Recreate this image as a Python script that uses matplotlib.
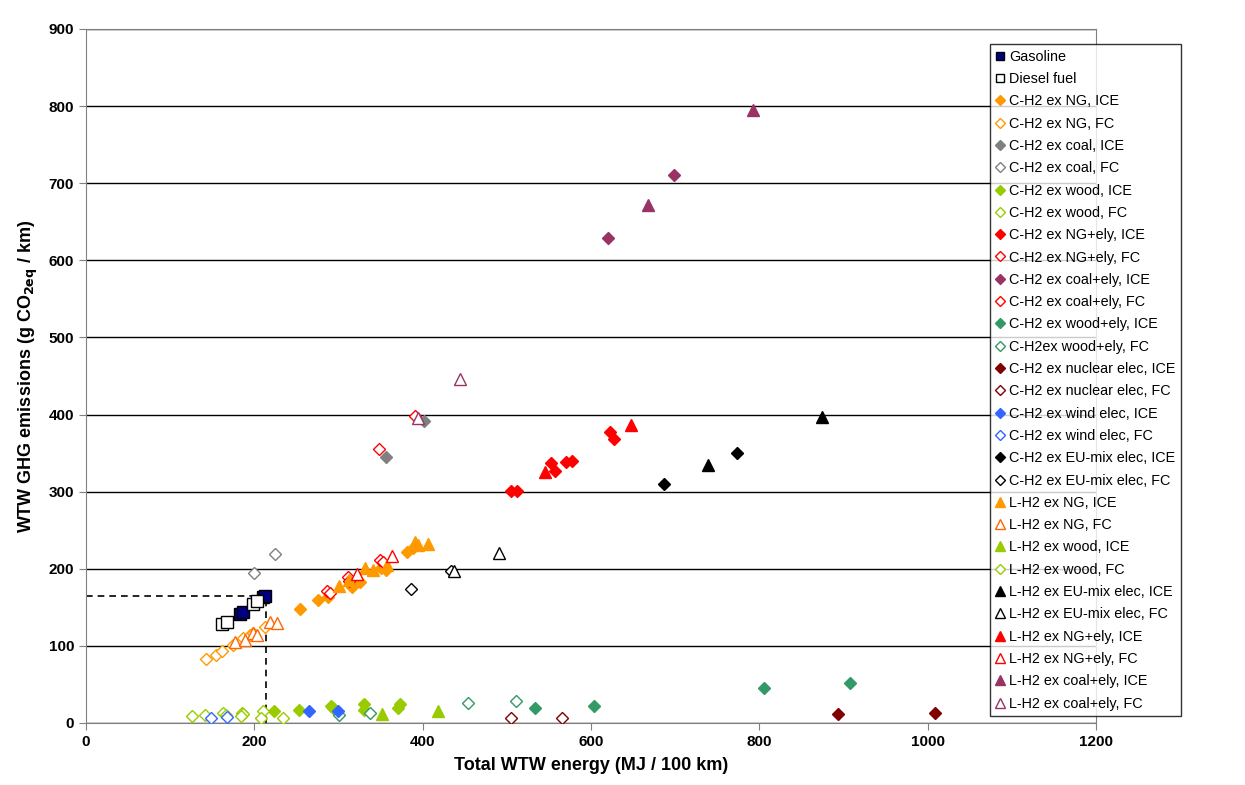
import matplotlib
matplotlib.use("Agg")
import matplotlib.pyplot as plt

plt.rcParams['font.family'] = ['Liberation Sans', 'DejaVu Sans']

# --- data (MJ/100 km, g CO2eq/km) ---
gasoline_x = [183, 186, 210, 213]
gasoline_y = [142, 144, 163, 165]
diesel_x = [162, 168, 198, 203]
diesel_y = [128, 131, 154, 158]

ch2_ng_ice_x = [254, 276, 288, 316, 326, 351, 357, 381, 389]
ch2_ng_ice_y = [148, 160, 164, 176, 183, 201, 199, 222, 227]
ch2_ng_fc_x = [143, 155, 161, 175, 187, 195, 199, 213]
ch2_ng_fc_y = [83, 88, 93, 101, 110, 114, 117, 125]

ch2_coal_ice_x = [356, 402]
ch2_coal_ice_y = [345, 391]
ch2_coal_fc_x = [200, 225]
ch2_coal_fc_y = [195, 219]

ch2_wood_ice_x = [223, 253, 291, 294, 330, 330, 371, 373]
ch2_wood_ice_y = [16, 17, 22, 19, 25, 17, 19, 25]
ch2_wood_fc_x = [126, 141, 163, 166, 185, 187, 210, 208]
ch2_wood_fc_y = [9, 10, 13, 11, 13, 12, 15, 7]

ch2_ngely_ice_x = [505, 512, 552, 557, 570, 577, 623, 627]
ch2_ngely_ice_y = [301, 301, 337, 327, 339, 340, 378, 368]
ch2_ngely_fc_x = [286, 290, 311, 313, 349, 353]
ch2_ngely_fc_y = [171, 169, 189, 184, 212, 209]

ch2_coalely_ice_x = [620, 699]
ch2_coalely_ice_y = [629, 711]
ch2_coalely_fc_x = [348, 391]
ch2_coalely_fc_y = [355, 398]

ch2_woodely_ice_x = [534, 603, 806, 908]
ch2_woodely_ice_y = [20, 22, 46, 52]
ch2_woodely_fc_x = [301, 338, 454, 511]
ch2_woodely_fc_y = [10, 13, 26, 29]

ch2_nuc_ice_x = [893, 1009]
ch2_nuc_ice_y = [12, 13]
ch2_nuc_fc_x = [505, 566]
ch2_nuc_fc_y = [6, 6]

ch2_wind_ice_x = [265, 299]
ch2_wind_ice_y = [15, 16]
ch2_wind_fc_x = [149, 167]
ch2_wind_fc_y = [7, 8]

ch2_eu_ice_x = [687, 773]
ch2_eu_ice_y = [310, 350]
ch2_eu_fc_x = [386, 434]
ch2_eu_fc_y = [174, 197]

lh2_ng_ice_x = [301, 313, 331, 341, 358, 391, 394, 406]
lh2_ng_ice_y = [178, 186, 201, 198, 205, 235, 231, 232]
lh2_ng_fc_x = [177, 189, 199, 203, 219, 227]
lh2_ng_fc_y = [105, 108, 117, 114, 131, 130]

lh2_wood_ice_x = [352, 418]
lh2_wood_ice_y = [12, 15]
lh2_wood_fc_x = [184, 234]
lh2_wood_fc_y = [9, 7]

lh2_eu_ice_x = [739, 874]
lh2_eu_ice_y = [335, 397]
lh2_eu_fc_x = [437, 491]
lh2_eu_fc_y = [197, 221]

lh2_ngely_ice_x = [545, 647]
lh2_ngely_ice_y = [325, 386]
lh2_ngely_fc_x = [322, 363]
lh2_ngely_fc_y = [193, 217]

lh2_coalely_ice_x = [668, 792]
lh2_coalely_ice_y = [672, 795]
lh2_coalely_fc_x = [395, 444]
lh2_coalely_fc_y = [396, 446]

ref_energy = 214
ref_ghg = 165

ORANGE = '#FF9900'
ORANGE2 = '#FF6600'
GREY = '#808080'
LIME = '#99CC00'
RED = '#FF0000'
PLUM = '#993366'
SEA = '#339966'
MAROON = '#800000'
BLUE = '#3366FF'
NAVY = '#000080'

# label, x, y, marker, colour, filled
series = [
    ("Gasoline", gasoline_x, gasoline_y, 's', NAVY, True),
    ("Diesel fuel", diesel_x, diesel_y, 's', 'black', False),
    ("C-H2 ex NG, ICE", ch2_ng_ice_x, ch2_ng_ice_y, 'D', ORANGE, True),
    ("C-H2 ex NG, FC", ch2_ng_fc_x, ch2_ng_fc_y, 'D', ORANGE, False),
    ("C-H2 ex coal, ICE", ch2_coal_ice_x, ch2_coal_ice_y, 'D', GREY, True),
    ("C-H2 ex coal, FC", ch2_coal_fc_x, ch2_coal_fc_y, 'D', GREY, False),
    ("C-H2 ex wood, ICE", ch2_wood_ice_x, ch2_wood_ice_y, 'D', LIME, True),
    ("C-H2 ex wood, FC", ch2_wood_fc_x, ch2_wood_fc_y, 'D', LIME, False),
    ("C-H2 ex NG+ely, ICE", ch2_ngely_ice_x, ch2_ngely_ice_y, 'D', RED, True),
    ("C-H2 ex NG+ely, FC", ch2_ngely_fc_x, ch2_ngely_fc_y, 'D', RED, False),
    ("C-H2 ex coal+ely, ICE", ch2_coalely_ice_x, ch2_coalely_ice_y, 'D', PLUM, True),
    ("C-H2 ex coal+ely, FC", ch2_coalely_fc_x, ch2_coalely_fc_y, 'D', RED, False),
    ("C-H2 ex wood+ely, ICE", ch2_woodely_ice_x, ch2_woodely_ice_y, 'D', SEA, True),
    ("C-H2ex wood+ely, FC", ch2_woodely_fc_x, ch2_woodely_fc_y, 'D', SEA, False),
    ("C-H2 ex nuclear elec, ICE", ch2_nuc_ice_x, ch2_nuc_ice_y, 'D', MAROON, True),
    ("C-H2 ex nuclear elec, FC", ch2_nuc_fc_x, ch2_nuc_fc_y, 'D', MAROON, False),
    ("C-H2 ex wind elec, ICE", ch2_wind_ice_x, ch2_wind_ice_y, 'D', BLUE, True),
    ("C-H2 ex wind elec, FC", ch2_wind_fc_x, ch2_wind_fc_y, 'D', BLUE, False),
    ("C-H2 ex EU-mix elec, ICE", ch2_eu_ice_x, ch2_eu_ice_y, 'D', 'black', True),
    ("C-H2 ex EU-mix elec, FC", ch2_eu_fc_x, ch2_eu_fc_y, 'D', 'black', False),
    ("L-H2 ex NG, ICE", lh2_ng_ice_x, lh2_ng_ice_y, '^', ORANGE, True),
    ("L-H2 ex NG, FC", lh2_ng_fc_x, lh2_ng_fc_y, '^', ORANGE2, False),
    ("L-H2 ex wood, ICE", lh2_wood_ice_x, lh2_wood_ice_y, '^', LIME, True),
    ("L-H2 ex wood, FC", lh2_wood_fc_x, lh2_wood_fc_y, 'D', LIME, False),
    ("L-H2 ex EU-mix elec, ICE", lh2_eu_ice_x, lh2_eu_ice_y, '^', 'black', True),
    ("L-H2 ex EU-mix elec, FC", lh2_eu_fc_x, lh2_eu_fc_y, '^', 'black', False),
    ("L-H2 ex NG+ely, ICE", lh2_ngely_ice_x, lh2_ngely_ice_y, '^', RED, True),
    ("L-H2 ex NG+ely, FC", lh2_ngely_fc_x, lh2_ngely_fc_y, '^', RED, False),
    ("L-H2 ex coal+ely, ICE", lh2_coalely_ice_x, lh2_coalely_ice_y, '^', PLUM, True),
    ("L-H2 ex coal+ely, FC", lh2_coalely_fc_x, lh2_coalely_fc_y, '^', PLUM, False),
]

fig = plt.figure(figsize=(12.45, 7.85), dpi=100)
ax = fig.add_axes([86 / 1245, 1 - 723 / 785, 1010 / 1245, 694 / 785])

ax.set_xlim(0, 1200)
ax.set_ylim(0, 900)
ax.set_xticks(range(0, 1201, 200))
ax.set_yticks(range(0, 901, 100))
ax.yaxis.grid(True, color='black', linewidth=1.0)
ax.set_axisbelow(True)
for side in ['top', 'right', 'bottom', 'left']:
    ax.spines[side].set_color(GREY)
ax.tick_params(axis='both', direction='out', length=5, color=GREY,
               labelsize=11)
for lab in ax.get_xticklabels() + ax.get_yticklabels():
    lab.set_fontweight('bold')

# reference lines at the gasoline point
ax.plot([0, ref_energy], [ref_ghg, ref_ghg], color='black', linestyle=(0, (4, 3)), linewidth=1.2, zorder=1)
ax.plot([ref_energy, ref_energy], [0, ref_ghg], color='black', linestyle=(0, (4, 3)), linewidth=1.2, zorder=1)

handles = []
for label, xs, ys, mk, col, filled in series:
    size = 8 if mk == 's' else (6.5 if mk == 'D' else 8.5)
    edge = 'black' if (mk == 's') else col
    h, = ax.plot(xs, ys, linestyle='none', marker=mk, markersize=size,
                 markerfacecolor=col if filled else 'white',
                 markeredgecolor=edge, markeredgewidth=1.0, label=label,
                 zorder=3)
    handles.append(h)

ax.set_xlabel("Total WTW energy (MJ / 100 km)", fontsize=13, fontweight='bold', labelpad=6)
ax.set_ylabel("WTW GHG emissions (g CO$_\\mathbf{2eq}$ / km)", fontsize=13, fontweight='bold', labelpad=6)

leg = fig.legend(handles=handles, loc='upper left',
                 bbox_to_anchor=(990 / 1245, 1 - 44 / 785),
                 fontsize=10.4, frameon=True, fancybox=False, edgecolor='black',
                 handlelength=0.6, handletextpad=0.3, labelspacing=0.575,
                 borderpad=0.4, borderaxespad=0, markerscale=0.8)
leg.get_frame().set_linewidth(1.0)

fig.savefig("out.png", dpi=100)
